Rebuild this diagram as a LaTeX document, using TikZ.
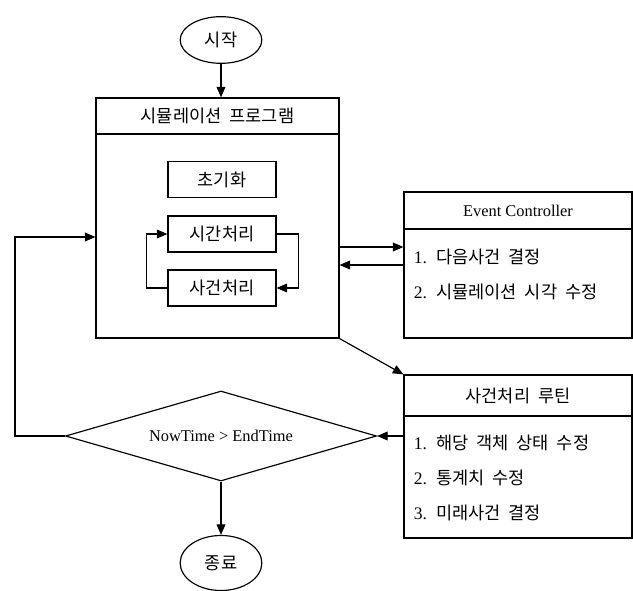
\documentclass[tikz,border=0pt]{standalone}
\usepackage{fontspec}
\setmainfont{Liberation Serif}
\newfontfamily\krfont[WordSpace=2]{Noto Sans CJK KR}
\usepackage{tikz}
\usetikzlibrary{arrows.meta,shapes.geometric}

\begin{document}
\begin{tikzpicture}[line width=1pt,
  kr/.style={font=\krfont\fontsize{15}{17}\selectfont},
  en/.style={font=\fontsize{14}{16}\selectfont},
  term/.style={draw, ellipse, kr, minimum width=2.45cm, minimum height=1.4cm, inner sep=0pt},
  frame/.style={draw, rectangle, inner sep=0pt},
  task/.style={draw, rectangle, kr, minimum width=3.24cm, minimum height=1.08cm},
  item/.style={kr, anchor=west, inner sep=0pt},
  arr/.style={-{Triangle[length=9pt,width=7.5pt]}}]
  \useasboundingbox (0,0) rectangle (18.99,-17.73);

  \node[term] (start) at (6.63,-1.2) {시작};
  % simulation program box
  \node[frame, minimum width=7.29cm, minimum height=7.2cm] (prog) at (6.525,-6.54) {};
  \node[frame, kr, anchor=north, minimum width=7.29cm, minimum height=1.08cm] (progtitle) at (prog.north) {시뮬레이션 프로그램};
  \node[task] (init) at (6.66,-5.385) {초기화};
  \node[task] (sigan) at (6.66,-7.02) {시간처리};
  \node[task] (sageon) at (6.66,-8.64) {사건처리};

  % event controller
  \node[frame, minimum width=6.84cm, minimum height=4.38cm] (ec) at (15.54,-7.95) {};
  \node[frame, en, anchor=north, minimum width=6.84cm, minimum height=1.11cm] (ectitle) at (ec.north) {Event Controller};
  \node[item] (ec1) at (12.4,-7.71) {{\rmfamily 1.} 다음사건 결정};
  \node[item] (ec2) at (12.4,-8.76) {{\rmfamily 2.} 시뮬레이션 시각 수정};

  % event routine
  \node[frame, minimum width=6.84cm, minimum height=4.89cm] (rt) at (15.54,-13.695) {};
  \node[frame, kr, anchor=north, minimum width=6.84cm, minimum height=1.23cm] (rttitle) at (rt.north) {사건처리 루틴};
  \node[item] (rt1) at (12.4,-13.29) {{\rmfamily 1.} 해당 객체 상태 수정};
  \node[item] (rt2) at (12.4,-14.34) {{\rmfamily 2.} 통계치 수정};
  \node[item] (rt3) at (12.4,-15.39) {{\rmfamily 3.} 미래사건 결정};

  \node[draw, diamond, aspect=3.45, en, inner sep=0pt, minimum width=9.33cm, minimum height=2.7cm] (dec) at (6.63,-13.08) {NowTime > EndTime};
  \node[term, minimum height=1.65cm] (end) at (6.63,-16.89) {종료};

  \coordinate (back) at (0.45,-7.11);

  \path[arr]
    (start) edge (start |- prog.north)
    ([yshift=0.54cm]ec.west -| prog.east) edge ([yshift=0.54cm]ec.west)
    (ec.west) edge (ec.west -| prog.east)
    (prog.south east) edge (rt.north west)
    (rt.west |- dec) edge (dec.east)
    (dec) edge (end);
  \draw[arr] (sigan.east) -- ++(0.66,0) |- (sageon.east);
  \draw[arr] (sageon.west) -- ++(-0.63,0) |- (sigan.west);
  \draw[arr] (dec.west) -| (back) -- (back -| prog.west);
\end{tikzpicture}
\end{document}
